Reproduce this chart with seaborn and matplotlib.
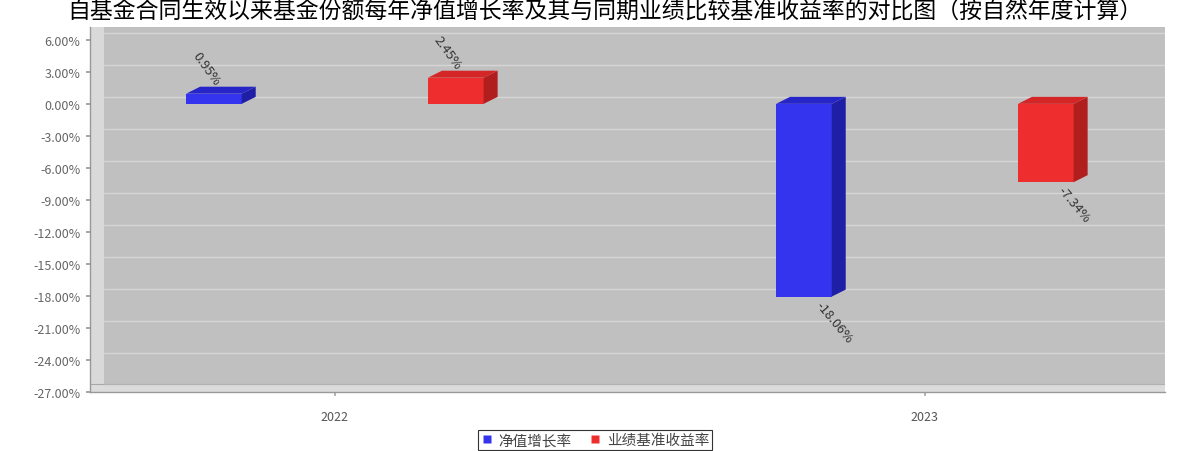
import numpy as np
import pandas as pd
import matplotlib
matplotlib.use("Agg")
import matplotlib.pyplot as plt
import seaborn as sns
from matplotlib.patches import Polygon, Rectangle
from matplotlib.transforms import IdentityTransform, ScaledTranslation, blended_transform_factory
from matplotlib.lines import Line2D

# ---- data ----
years = ["2022", "2023"]
series = ["净值增长率", "业绩基准收益率"]
nav_growth = [0.95, -18.06]
benchmark = [2.45, -7.34]
label_texts_nav = ["0.95%", "-18.06%"]
label_texts_bm = ["2.45%", "-7.34%"]
yticks = [6, 3, 0, -3, -6, -9, -12, -15, -18, -21, -24, -27]
title = "自基金合同生效以来基金份额每年净值增长率及其与同期业绩比较基准收益率的对比图（按自然年度计算）"

front_colors = {"净值增长率": "#3434ee", "业绩基准收益率": "#ee2e2e"}
side_colors = {"净值增长率": "#1f1fa6", "业绩基准收益率": "#b01e1e"}
top_colors = {"净值增长率": "#2626c8", "业绩基准收益率": "#d42626"}

sns.set_theme(style="white")
plt.rcParams["font.family"] = ["Noto Sans CJK SC", "DejaVu Sans"]
plt.rcParams["axes.unicode_minus"] = False

df = pd.DataFrame({
    "year": years * 2,
    "series": [series[0]] * len(years) + [series[1]] * len(years),
    "value": nav_growth + benchmark,
})

W, H = 1177, 452
fig = plt.figure(figsize=(W / 100, H / 100), dpi=100)
fig.patch.set_facecolor("white")
ax = fig.add_axes([90 / W, 1 - 393 / H, 1075 / W, 365 / H])
ax.set_facecolor("#c0c0c0")

sns.barplot(data=df, x="year", y="value", hue="series", order=years,
            hue_order=series, palette=[front_colors[s] for s in series],
            width=0.82, gap=0.77, dodge=True, errorbar=None, saturation=1,
            linewidth=0, legend=False, ax=ax, zorder=3)

ax.set_xlim(-0.415, 1.407)
ax.set_ylim(-27, 7.2)

# 3D wall / floor decoration
ax.add_patch(Rectangle((0, 0), 0.013, 1, transform=ax.transAxes,
                       facecolor="#d9d9d9", edgecolor="none", zorder=0.5))
ax.add_patch(Rectangle((0, 0), 1, 0.022, transform=ax.transAxes,
                       facecolor="#dcdcdc", edgecolor="none", zorder=0.6))
ax.add_line(Line2D([0, 1], [0.022, 0.022], transform=ax.transAxes,
                   color="#a8a8a8", lw=0.8, zorder=0.7))

# gridlines on back wall (shifted up by depth)
grid_tr = blended_transform_factory(ax.transAxes, ax.transData) + \
    ScaledTranslation(0, 0.07, fig.dpi_scale_trans)
for v in yticks:
    ax.add_line(Line2D([0.013, 1], [v, v], transform=grid_tr,
                       color="#d6d6d6", lw=1.0, zorder=1))

ax.set_yticks(yticks)
ax.set_yticklabels([f"{v:.2f}%" for v in yticks])
ax.tick_params(axis="y", labelsize=9, labelcolor="#666666", length=3,
               color="#999999", left=True, pad=4)
ax.tick_params(axis="x", labelsize=9, labelcolor="#555555", length=3,
               color="#aaaaaa", bottom=True, pad=10)
ax.set_xlabel("")
ax.set_ylabel("")
for s in ["top", "right"]:
    ax.spines[s].set_visible(False)
for s in ["left", "bottom"]:
    ax.spines[s].set_color("#999999")
    ax.spines[s].set_linewidth(1)

# 3D faces and labels
dx, dy = 14, 7
bars = [p for p in ax.patches if p.get_zorder() == 3 and p.get_width() < 0.5]
labels = label_texts_nav + label_texts_bm
for i, p in enumerate(bars):
    s = series[i // len(years)]
    x0 = p.get_x()
    x1 = x0 + p.get_width()
    y0 = p.get_y()
    y1 = y0 + p.get_height()
    lo, hi = min(y0, y1), max(y0, y1)
    X0, Ylo = ax.transData.transform((x0, lo))
    X1, Yhi = ax.transData.transform((x1, hi))
    side = Polygon([(X1, Ylo), (X1 + dx, Ylo + dy), (X1 + dx, Yhi + dy), (X1, Yhi)],
                   closed=True, transform=IdentityTransform(),
                   facecolor=side_colors[s], edgecolor="none", zorder=3, clip_on=False)
    top = Polygon([(X0, Yhi), (X0 + dx, Yhi + dy), (X1 + dx, Yhi + dy), (X1, Yhi)],
                  closed=True, transform=IdentityTransform(),
                  facecolor=top_colors[s], edgecolor="none", zorder=3, clip_on=False)
    fig.add_artist(side)
    fig.add_artist(top)
    xc = (X0 + X1) / 2
    if p.get_height() >= 0:
        fig.text((xc + 3) / W, (Yhi + 10) / H, labels[i], rotation=-54,
                 rotation_mode="anchor", ha="right", va="center",
                 fontsize=9.5, color="#333333")
    else:
        fig.text((xc + 14) / W, (Ylo - 6) / H, labels[i], rotation=-50,
                 rotation_mode="anchor", ha="left", va="center",
                 fontsize=9.5, color="#333333")

# title
fig.text(605 / W, 1 - 1 / H, title, ha="center", va="top", fontsize=16.5,
         color="black")

# legend
handles = [Line2D([], [], marker="s", linestyle="none", markersize=6,
                  markerfacecolor=front_colors[s], markeredgecolor="none") for s in series]
leg = fig.legend(handles, series, loc="center", bbox_to_anchor=(595 / W, 1 - 441 / H),
                 ncol=2, frameon=True, fancybox=False, edgecolor="black",
                 fontsize=10.5, handlelength=0.8, handletextpad=0.4,
                 columnspacing=1.2, borderpad=0.2, borderaxespad=0.2,
                 labelcolor="#444444")
leg.get_frame().set_linewidth(0.8)

fig.savefig("out.png", dpi=100)
